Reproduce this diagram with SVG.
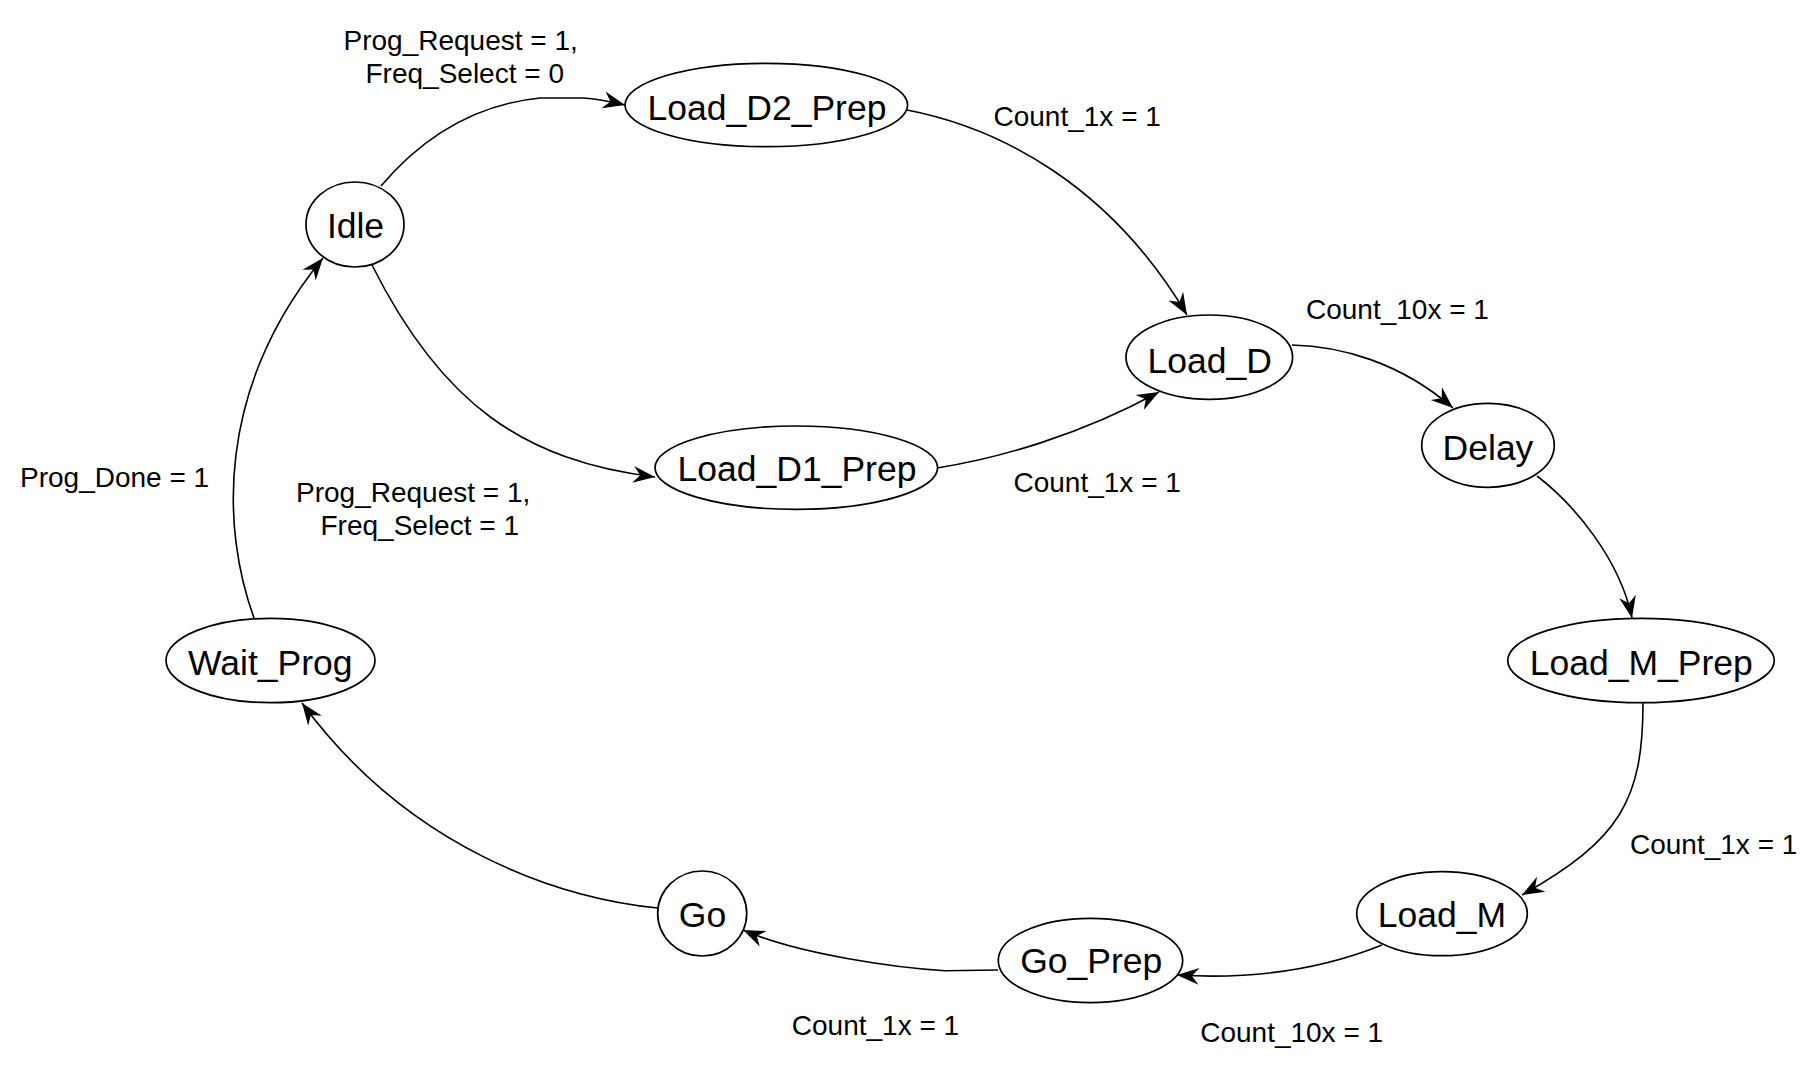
<svg xmlns="http://www.w3.org/2000/svg" width="1820" height="1070" viewBox="0 0 1820 1070">
<style>
.node{fill:#fff;stroke:#000;stroke-width:1.7}
.nt{font-family:"Liberation Sans",Arial,sans-serif;font-size:35.5px;fill:#000;text-anchor:middle}
.lbl{font-family:"Liberation Sans",Arial,sans-serif;font-size:28px;fill:#000}
.edge{fill:none;stroke:#000;stroke-width:1.6;marker-end:url(#arr)}
</style>
<defs>
<marker id="arr" viewBox="-24 -10 26 20" refX="0" refY="0" markerWidth="26" markerHeight="20" markerUnits="userSpaceOnUse" orient="auto">
<path d="M0,0 L-22,-8.5 L-15,0 L-22,8.5 Z" fill="#000"/>
</marker>
</defs>
<rect width="1820" height="1070" fill="#fff"/>
<g id="connectors">
<path class="edge" d="M381,186 C420,140 470,105 540,98 L583,98 Q600,99 625,105"/>
<path class="edge" d="M372,265 C442,405 525,461 655,477"/>
<path class="edge" d="M907,110 C1000,128 1110,185 1187,315"/>
<path class="edge" d="M937,468 C1000,458 1080,435 1159,392"/>
<path class="edge" d="M1292,345 C1340,346 1400,362 1453,408"/>
<path class="edge" d="M1537,476 C1575,505 1620,560 1632,618"/>
<path class="edge" d="M1643,703 C1643,800 1620,840 1522,895"/>
<path class="edge" d="M1382,945 Q1290,982 1177,975"/>
<path class="edge" d="M998,970 L945,970.7 C900,968 800,955 743,930"/>
<path class="edge" d="M658,908 C560,898 410,850 302,703"/>
<path class="edge" d="M254,618 C222,530 215,390 323,258"/>
</g>
<g id="labels">
<text class="lbl" x="343.5" y="50">Prog_Request = 1,</text>
<text class="lbl" x="365.5" y="83.3">Freq_Select = 0</text>
<text class="lbl" x="993.5" y="126">Count_1x = 1</text>
<text class="lbl" x="1306" y="318.5">Count_10x = 1</text>
<text class="lbl" x="1013.5" y="491.7">Count_1x = 1</text>
<text class="lbl" x="20" y="487.3">Prog_Done = 1</text>
<text class="lbl" x="296" y="501.7">Prog_Request = 1,</text>
<text class="lbl" x="320.5" y="535">Freq_Select = 1</text>
<text class="lbl" x="1630" y="854">Count_1x = 1</text>
<text class="lbl" x="791.8" y="1035">Count_1x = 1</text>
<text class="lbl" x="1200.2" y="1041.7">Count_10x = 1</text>
</g>
<g id="Idle"><ellipse class="node" cx="355" cy="224.5" rx="49" ry="42.5"/><text class="nt" x="355.5" y="238.3">Idle</text></g>
<g id="Load_D2_Prep"><ellipse class="node" cx="766.3" cy="105" rx="141.3" ry="41.7"/><text class="nt" x="767" y="120">Load_D2_Prep</text></g>
<g id="Load_D1_Prep"><ellipse class="node" cx="796.3" cy="467.7" rx="141.3" ry="41.7"/><text class="nt" x="797" y="481">Load_D1_Prep</text></g>
<g id="Load_D"><ellipse class="node" cx="1209.3" cy="357.2" rx="83.3" ry="42.2"/><text class="nt" x="1209.7" y="372.7">Load_D</text></g>
<g id="Delay"><ellipse class="node" cx="1488" cy="445.3" rx="66.3" ry="42"/><text class="nt" x="1488" y="460">Delay</text></g>
<g id="Load_M_Prep"><ellipse class="node" cx="1641" cy="660.5" rx="133.3" ry="42.2"/><text class="nt" x="1641.3" y="675">Load_M_Prep</text></g>
<g id="Load_M"><ellipse class="node" cx="1442" cy="913.7" rx="85.3" ry="42"/><text class="nt" x="1442" y="926.7">Load_M</text></g>
<g id="Go_Prep"><ellipse class="node" cx="1090.5" cy="960.5" rx="92.2" ry="42.2"/><text class="nt" x="1091.2" y="972.7">Go_Prep</text></g>
<g id="Go"><ellipse class="node" cx="702.2" cy="913.5" rx="44.5" ry="42.5"/><text class="nt" x="702.5" y="926.7">Go</text></g>
<g id="Wait_Prog"><ellipse class="node" cx="270.5" cy="660.5" rx="104.5" ry="42.2"/><text class="nt" x="270.3" y="675">Wait_Prog</text></g>
</svg>
